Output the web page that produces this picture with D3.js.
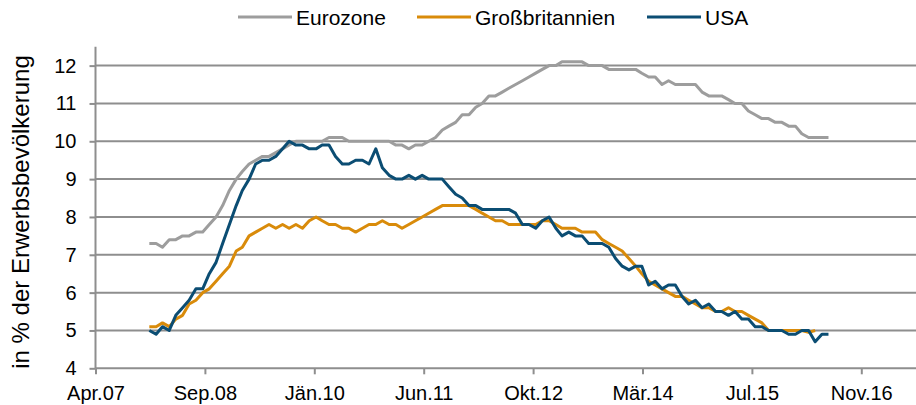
<!DOCTYPE html>
<html>
<head>
<meta charset="utf-8">
<script src="https://cdn.jsdelivr.net/npm/d3@7"></script>
<style>
body{margin:0;background:#fff;}
text{font-family:Arial,"Liberation Sans",sans-serif;fill:#000;}
</style>
</head>
<body>
<svg id="chart" width="916" height="405"></svg>
<script>
// monthly series, first value = Jan 2008
var startMonth = new Date(2008, 0, 1);
var seriesNames = ["Eurozone", "Großbritannien", "USA"];
var seriesColors = ["#9d9d9d", "#d98b0a", "#0b4d73"];

var eurozone = [7.3,7.3,7.2,7.4,7.4,7.5,7.5,7.6,7.6,7.8,8.0,8.3,
  8.7,9.0,9.2,9.4,9.5,9.6,9.6,9.7,9.8,9.9,10.0,10.0,
  10.0,10.0,10.0,10.1,10.1,10.1,10.0,10.0,10.0,10.0,10.0,10.0,
  10.0,9.9,9.9,9.8,9.9,9.9,10.0,10.1,10.3,10.4,10.5,10.7,
  10.7,10.9,11.0,11.2,11.2,11.3,11.4,11.5,11.6,11.7,11.8,11.9,
  12.0,12.0,12.1,12.1,12.1,12.1,12.0,12.0,12.0,11.9,11.9,11.9,
  11.9,11.9,11.8,11.7,11.7,11.5,11.6,11.5,11.5,11.5,11.5,11.3,
  11.2,11.2,11.2,11.1,11.0,11.0,10.8,10.7,10.6,10.6,10.5,10.5,
  10.4,10.4,10.2,10.1,10.1,10.1,10.1];

var grossbritannien = [5.1,5.1,5.2,5.1,5.3,5.4,5.7,5.8,6.0,6.1,6.3,6.5,
  6.7,7.1,7.2,7.5,7.6,7.7,7.8,7.7,7.8,7.7,7.8,7.7,
  7.9,8.0,7.9,7.8,7.8,7.7,7.7,7.6,7.7,7.8,7.8,7.9,
  7.8,7.8,7.7,7.8,7.9,8.0,8.1,8.2,8.3,8.3,8.3,8.3,
  8.3,8.2,8.1,8.0,7.9,7.9,7.8,7.8,7.8,7.8,7.8,7.9,
  7.9,7.8,7.7,7.7,7.7,7.6,7.6,7.6,7.4,7.3,7.2,7.1,
  6.9,6.7,6.5,6.3,6.2,6.1,6.0,5.9,5.9,5.8,5.7,5.6,
  5.6,5.5,5.5,5.6,5.5,5.5,5.4,5.3,5.2,5.0,5.0,5.0,
  5.0,5.0,5.0,4.95,5.0];

var usa = [5.0,4.9,5.1,5.0,5.4,5.6,5.8,6.1,6.1,6.5,6.8,7.3,
  7.8,8.3,8.7,9.0,9.4,9.5,9.5,9.6,9.8,10.0,9.9,9.9,
  9.8,9.8,9.9,9.9,9.6,9.4,9.4,9.5,9.5,9.4,9.8,9.3,
  9.1,9.0,9.0,9.1,9.0,9.1,9.0,9.0,9.0,8.8,8.6,8.5,
  8.3,8.3,8.2,8.2,8.2,8.2,8.2,8.1,7.8,7.8,7.7,7.9,
  8.0,7.7,7.5,7.6,7.5,7.5,7.3,7.3,7.3,7.2,6.9,6.7,
  6.6,6.7,6.7,6.2,6.3,6.1,6.2,6.2,5.9,5.7,5.8,5.6,
  5.7,5.5,5.5,5.4,5.5,5.3,5.3,5.1,5.1,5.0,5.0,5.0,
  4.9,4.9,5.0,5.0,4.7,4.9,4.9];

// date axis: one tick every 500 days, starting end of April 2007
var xTickStart = new Date(2007, 3, 30);
var xTickStepDays = 500;
var xTickLabels = ["Apr.07","Sep.08","Jän.10","Jun.11","Okt.12","Mär.14","Jul.15","Nov.16"];
var yTicks = [4,5,6,7,8,9,10,11,12];
var yTitle = "in % der Erwerbsbevölkerung";

var svg = d3.select("#chart");
var plot = {left:95.5, right:916, top:46.7, bottom:368.3};
var gridColor = "#8e8e8e";

var x = d3.scaleTime()
  .domain([xTickStart, d3.timeDay.offset(xTickStart, 3750)])
  .range([plot.left, plot.right]);
var y = d3.scaleLinear()
  .domain([4, 12.5])
  .range([plot.bottom, plot.top]);

var tickDates = xTickLabels.map(function(l, i){ return d3.timeDay.offset(xTickStart, i*xTickStepDays); });

// grid lines
svg.append("g").attr("class","grid")
  .selectAll("line")
  .data(yTicks.filter(function(v){ return v > 4; }))
  .enter().append("line")
  .attr("x1", plot.left).attr("x2", plot.right)
  .attr("y1", function(d){ return y(d); }).attr("y2", function(d){ return y(d); })
  .attr("stroke", gridColor).attr("stroke-width", 2);

// y axis
var yAxis = d3.axisLeft(y).tickValues(yTicks).tickSize(6).tickPadding(13).tickFormat(d3.format("d"));
var gy = svg.append("g").attr("transform","translate("+plot.left+",0)").call(yAxis);
gy.select(".domain").attr("stroke", gridColor).attr("stroke-width", 2)
  .attr("d", "M0," + plot.top + "V" + plot.bottom);
gy.selectAll(".tick line").attr("stroke", gridColor).attr("stroke-width", 2);
gy.selectAll(".tick text").attr("font-size", 20).attr("font-family", "Arial, 'Liberation Sans', sans-serif").attr("fill","#000");

// x axis
var xAxis = d3.axisBottom(x).tickValues(tickDates).tickSize(6).tickPadding(12)
  .tickFormat(function(d, i){ return xTickLabels[i]; });
var gx = svg.append("g").attr("transform","translate(0,"+plot.bottom+")").call(xAxis);
gx.select(".domain").attr("stroke", gridColor).attr("stroke-width", 2)
  .attr("d", "M" + plot.left + ",0H" + plot.right);
gx.selectAll(".tick line").attr("stroke", gridColor).attr("stroke-width", 2);
gx.selectAll(".tick text").attr("font-size", 20).attr("font-family", "Arial, 'Liberation Sans', sans-serif").attr("fill","#000");

// y title
svg.append("text")
  .attr("transform","translate(29,212) rotate(-90)")
  .attr("text-anchor","middle")
  .attr("font-size", 24)
  .text(yTitle);

// lines
var allSeries = [eurozone, grossbritannien, usa];
var line = d3.line()
  .x(function(d, i){ return x(d3.timeMonth.offset(startMonth, i)); })
  .y(function(d){ return y(d); });

svg.append("g").selectAll("path")
  .data(allSeries)
  .enter().append("path")
  .attr("d", function(d){ return line(d); })
  .attr("fill","none")
  .attr("stroke", function(d, i){ return seriesColors[i]; })
  .attr("stroke-width", 3)
  .attr("stroke-linejoin","round");

// legend
var legendX = [238, 417, 647];
var legend = svg.append("g").attr("class","legend");
var keys = legend.selectAll("g")
  .data(seriesNames)
  .enter().append("g")
  .attr("transform", function(d, i){ return "translate("+legendX[i]+",17)"; });
keys.append("line")
  .attr("x1", 0).attr("x2", 54).attr("y1", 0).attr("y2", 0)
  .attr("stroke", function(d, i){ return seriesColors[i]; })
  .attr("stroke-width", 3);
keys.append("text")
  .attr("x", 58).attr("y", 7.5)
  .attr("font-size", 21)
  .text(function(d){ return d; });
</script>
</body>
</html>
